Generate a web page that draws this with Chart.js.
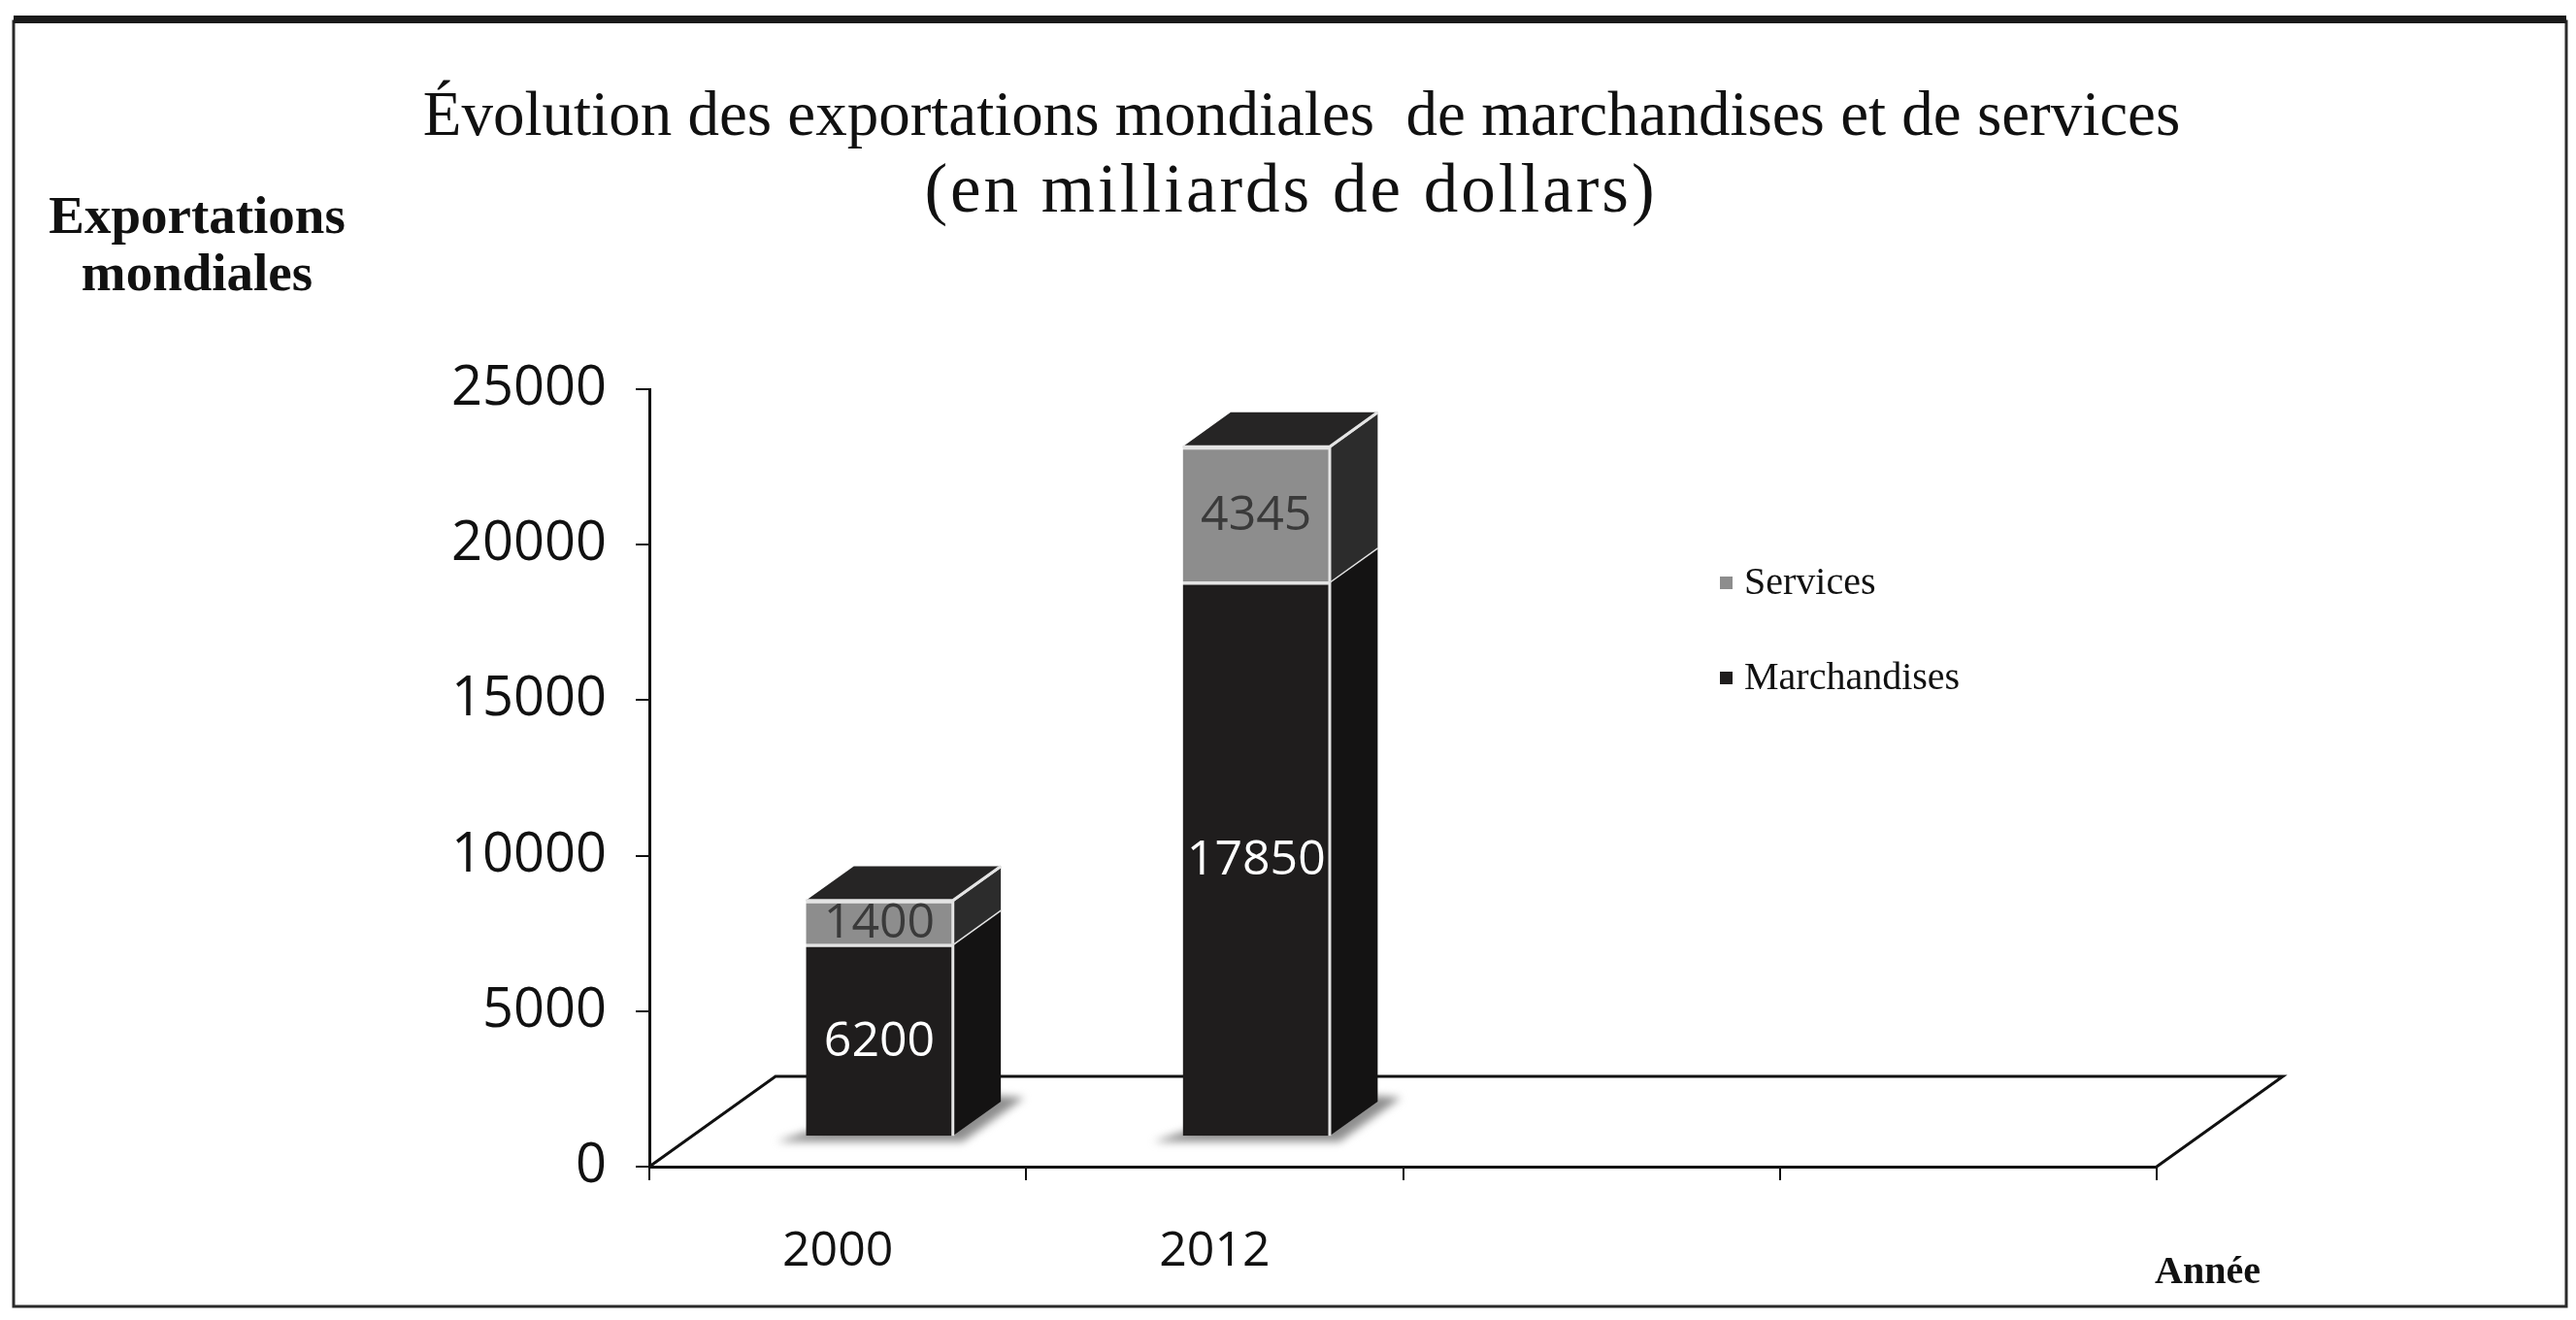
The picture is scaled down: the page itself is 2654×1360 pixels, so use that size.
<!DOCTYPE html>
<html>
<head>
<meta charset="utf-8">
<script src="https://cdn.jsdelivr.net/npm/chart.js@4.4.1/dist/chart.umd.min.js"></script>
<style>
  html, body { margin: 0; padding: 0; background: #fff; }
</style>
</head>
<body>
<canvas id="myChart" width="2654" height="1360"></canvas>
<script>
const years = ["2000", "2012", "", ""];
const marchandises = [6200, 17850, null, null];
const services = [1400, 4345, null, null];
const yTicks = [0, 5000, 10000, 15000, 20000, 25000];
const titleLines = [
  "Évolution des exportations mondiales  de marchandises et de services",
  "(en milliards de dollars)",
];
const yTitle = ["Exportations", "mondiales"];
const xTitle = "Année";

// fake 3D look (floor depth, bar offset and thickness)
const DEPTH_X = 130;
const DEPTH_Y = 93;
const FRONT = 0.33;
const THICK = 0.38;

const sideColors = ["#141313", "#2c2c2c"];
const labelColors = ["#ffffff", "#3a3a3a"];

function frontFaces(chart, i) {
  const out = [];
  chart.data.datasets.forEach((ds, d) => {
    const el = chart.getDatasetMeta(d).data[i];
    if (!el || ds.data[i] == null) return;
    const p = el.getProps(["x", "y", "base", "width"], true);
    out.push({ d, xl: p.x - p.width / 2, xr: p.x + p.width / 2, yt: p.y, yb: p.base, cx: p.x });
  });
  return out;
}

const fake3d = {
  id: "fake3d",
  beforeDraw(chart) {
    const ctx = chart.ctx;
    ctx.save();
    ctx.fillStyle = "#fff";
    ctx.fillRect(0, 0, chart.width, chart.height);
    ctx.strokeStyle = "#2a2a2a";
    ctx.lineWidth = 3;
    ctx.strokeRect(14, 22, 2630, 1324);
    ctx.fillStyle = "#1a1a1a";
    ctx.fillRect(14, 16, 2630, 8);
    ctx.restore();
  },
  beforeDatasetsDraw(chart) {
    const { ctx, chartArea: a } = chart;
    ctx.save();
    ctx.strokeStyle = "#111";
    ctx.lineWidth = 3;
    ctx.beginPath();
    ctx.moveTo(a.left, a.bottom);
    ctx.lineTo(a.left + DEPTH_X, a.bottom - DEPTH_Y);
    ctx.lineTo(a.right + DEPTH_X, a.bottom - DEPTH_Y);
    ctx.lineTo(a.right, a.bottom);
    ctx.stroke();

    // soft shadows on the floor
    const ox = DEPTH_X * FRONT, oy = -DEPTH_Y * FRONT;
    const dx = DEPTH_X * THICK, dy = -DEPTH_Y * THICK;
    ctx.filter = "blur(4px)";
    ctx.fillStyle = "#8e8e8e";
    years.forEach((y, i) => {
      const f = frontFaces(chart, i);
      if (!f.length) return;
      const xl = f[0].xl + ox, xr = f[0].xr + ox, yb = f[0].yb + oy;
      ctx.beginPath();
      ctx.moveTo(xl - 30, yb + 6);
      ctx.lineTo(xr + 10, yb + 6);
      ctx.lineTo(xr + dx + 24, yb + dy - 4);
      ctx.lineTo(xr + dx, yb + dy - 6);
      ctx.lineTo(xl, yb - 4);
      ctx.closePath();
      ctx.fill();
    });
    ctx.restore();

    ctx.save();
    ctx.translate(ox, oy);
  },
  afterDatasetsDraw(chart) {
    const ctx = chart.ctx;
    const dx = DEPTH_X * THICK, dy = -DEPTH_Y * THICK;
    years.forEach((y, i) => {
      const faces = frontFaces(chart, i);
      faces.forEach((f, k) => {
        // side face
        ctx.fillStyle = sideColors[f.d];
        ctx.beginPath();
        ctx.moveTo(f.xr, f.yt);
        ctx.lineTo(f.xr + dx, f.yt + dy);
        ctx.lineTo(f.xr + dx, f.yb + dy);
        ctx.lineTo(f.xr, f.yb);
        ctx.closePath();
        ctx.fill();
        ctx.strokeStyle = "#e4e4e4";
        ctx.lineWidth = 3;
        ctx.beginPath();
        ctx.moveTo(f.xr, f.yt);
        ctx.lineTo(f.xr + dx, f.yt + dy);
        ctx.stroke();
        // top face for the highest segment
        if (k === faces.length - 1) {
          ctx.fillStyle = "#262525";
          ctx.beginPath();
          ctx.moveTo(f.xl, f.yt);
          ctx.lineTo(f.xl + dx, f.yt + dy);
          ctx.lineTo(f.xr + dx, f.yt + dy);
          ctx.lineTo(f.xr, f.yt);
          ctx.closePath();
          ctx.fill();
          ctx.beginPath();
          ctx.moveTo(f.xl, f.yt);
          ctx.lineTo(f.xr, f.yt);
          ctx.lineTo(f.xr + dx, f.yt + dy);
          ctx.stroke();
        }
        ctx.beginPath();
        ctx.moveTo(f.xr, f.yt);
        ctx.lineTo(f.xr, f.yb);
        ctx.stroke();
        // value label
        const v = chart.data.datasets[f.d].data[i];
        ctx.fillStyle = labelColors[f.d];
        ctx.font = "50px 'Open Sans'";
        ctx.textAlign = "center";
        ctx.textBaseline = "middle";
        ctx.fillText(String(v), f.cx, (f.yt + f.yb) / 2 + 2);
      });
    });
    ctx.restore();
  },
  afterDraw(chart) {
    const { ctx, chartArea: a } = chart;
    ctx.save();
    ctx.fillStyle = "#111";
    ctx.textAlign = "center";
    ctx.textBaseline = "middle";

    // title
    ctx.font = "65px 'Liberation Serif'";
    ctx.fillText(titleLines[0], 1341, 122);
    ctx.font = "71px 'Liberation Serif'";
    ctx.letterSpacing = "3px";
    ctx.fillText(titleLines[1], 1330, 199);
    ctx.letterSpacing = "0px";

    ctx.font = "bold 55px 'Liberation Serif'";
    ctx.fillText(yTitle[0], 203, 226);
    ctx.fillText(yTitle[1], 203, 285);
    ctx.textAlign = "left";
    ctx.font = "bold 40px 'Liberation Serif'";
    ctx.fillText(xTitle, a.right - 2, 1312);

    // legend, top to bottom in reverse stacking order
    const items = chart.data.datasets.slice().reverse();
    ctx.font = "40px 'Liberation Serif'";
    items.forEach((ds, k) => {
      const y = 601 + k * 98;
      ctx.fillStyle = ds.backgroundColor;
      ctx.fillRect(1772, y - 7, 13, 13);
      ctx.fillStyle = "#111";
      ctx.fillText(ds.label, 1797, y);
    });
    ctx.restore();
  },
};

new Chart("myChart", {
  type: "bar",
  data: {
    labels: years,
    datasets: [
      {
        label: "Marchandises",
        data: marchandises,
        backgroundColor: "#1f1d1d",
        borderColor: "#e4e4e4",
        borderWidth: { top: 3, right: 0, left: 0, bottom: 0 },
        borderSkipped: false,
        clip: false,
      },
      {
        label: "Services",
        data: services,
        backgroundColor: "#8d8d8d",
        borderColor: "#e4e4e4",
        borderWidth: { top: 3, right: 0, left: 0, bottom: 0 },
        borderSkipped: false,
        clip: false,
      },
    ],
  },
  options: {
    responsive: false,
    animation: false,
    barPercentage: 0.39,
    categoryPercentage: 1.0,
    layout: {
      padding: { left: 20, right: 432, top: 401, bottom: 40 },
    },
    plugins: {
      legend: { display: false },
      tooltip: { enabled: false },
      title: { display: false },
    },
    scales: {
      x: {
        stacked: true,
        grid: {
          display: true,
          drawOnChartArea: false,
          drawTicks: true,
          tickLength: 14,
          color: "#111",
          lineWidth: 2,
        },
        border: { color: "#111", width: 3 },
        ticks: {
          color: "#111",
          font: { family: "Open Sans", size: 50 },
          padding: 44,
        },
        afterFit(scale) {
          scale.height = 118;
        },
      },
      y: {
        stacked: true,
        min: 0,
        max: 25000,
        afterBuildTicks(scale) {
          scale.ticks = yTicks.map((v) => ({ value: v }));
        },
        ticks: {
          color: "#111",
          font: { family: "Open Sans", size: 56 },
          padding: 30,
          callback: (v) => String(v),
        },
        grid: {
          drawOnChartArea: false,
          tickLength: 14,
          color: "#111",
          lineWidth: 2,
        },
        border: { color: "#111", width: 3 },
        afterFit(scale) {
          scale.width = 649;
        },
      },
    },
  },
  plugins: [fake3d],
});
</script>
</body>
</html>
